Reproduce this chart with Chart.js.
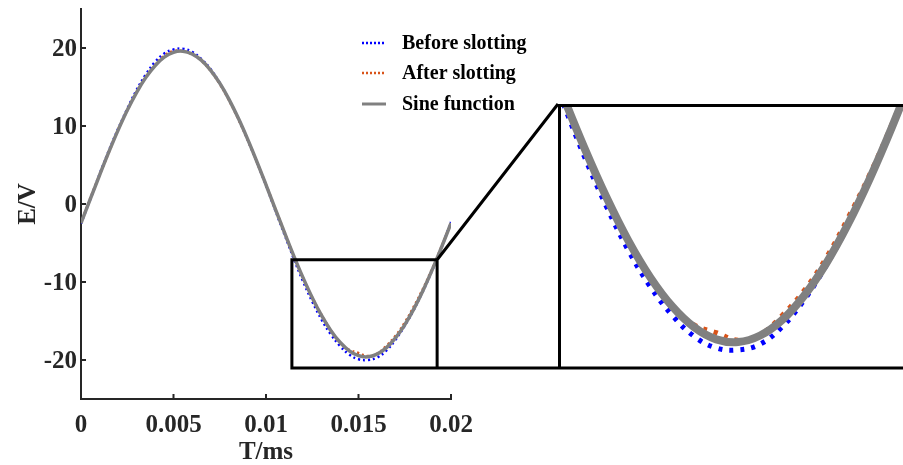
<!DOCTYPE html>
<html>
<head>
<meta charset="utf-8">
<script src="https://cdn.jsdelivr.net/npm/chart.js@4"></script>
<style>
body{margin:0;background:#fff}
#wrap{position:relative;width:903px;height:465px;overflow:hidden}
#main{position:absolute;left:0;top:0}
#zoom{position:absolute;left:558px;top:104px}
</style>
</head>
<body>
<div id="wrap">
<canvas id="main" width="903" height="465"></canvas>
<canvas id="zoom" width="345" height="265"></canvas>
</div>
<script>
// time axis (ms), one sample every 0.0005
const timeMs = [0,0.0005,0.001,0.0015,0.002,0.0025,0.003,0.0035,0.004,0.0045,0.005,
  0.0055,0.006,0.0065,0.007,0.0075,0.008,0.0085,0.009,0.0095,0.01,
  0.0105,0.011,0.0115,0.012,0.0125,0.013,0.0135,0.014,0.0145,0.015,
  0.0155,0.016,0.0165,0.017,0.0175,0.018,0.0185,0.019,0.0195,0.02];

const beforeSlotting = [-2.5,0.6,3.8,6.8,9.6,12.2,14.6,16.6,18.2,19.3,19.8,
  19.9,19.5,18.6,17.3,15.5,13.4,11.0,8.3,5.4,2.4,
  -0.8,-3.9,-7.0,-9.9,-12.5,-14.8,-16.7,-18.2,-19.3,-19.9,
  -20.0,-19.7,-18.8,-17.4,-15.6,-13.5,-11.1,-8.4,-5.5,-2.3];

const afterSlotting = [-2.4,0.7,3.7,6.6,9.5,12.0,14.3,16.3,17.8,19.0,19.6,
  19.6,19.2,18.4,17.1,15.4,13.3,10.9,8.3,5.4,2.5,
  -0.6,-3.6,-6.7,-9.5,-12.0,-14.2,-16.2,-17.8,-18.7,-19.1,
  -19.5,-19.2,-18.2,-16.9,-15.2,-13.1,-10.8,-8.2,-5.4,-2.4];

const sineFunction = [-2.46,0.62,3.67,6.64,9.44,12.01,14.29,16.21,17.73,18.82,19.45,
  19.59,19.25,18.44,17.17,15.49,13.42,11.02,8.35,5.47,2.46,
  -0.62,-3.67,-6.64,-9.44,-12.01,-14.29,-16.21,-17.73,-18.82,-19.45,
  -19.59,-19.25,-18.44,-17.17,-15.49,-13.42,-11.02,-8.35,-5.47,-2.46];

const seriesNames = ['Before slotting','After slotting','Sine function'];
const xTicks = [0,0.005,0.01,0.015,0.02];
const yTicks = [-20,-10,0,10,20];
const xLabels = ['0','0.005','0.01','0.015','0.02'];

// zoom window (data units) shown in the inset
const zoomX = [0.0114, 0.01925];
const zoomY = [-21.0, -7.15];

const INK = '#262626';
const FONT = "'Liberation Serif', 'Times New Roman', serif";
const BLUE = '#0000ff', ORANGE = '#d95319', GREY = '#808080';
const INSET = {left:558, top:104, width:345, height:265};

const pts = arr => arr.map((v,i)=>({x:timeMs[i], y:v}));

function makeSets(big){
  return [
    {label:seriesNames[0], data:pts(beforeSlotting), borderColor:BLUE, borderWidth:big?5:2.5,
     borderDash:big?[4,7]:[2,3], pointRadius:0, tension:0.4, order:2},
    {label:seriesNames[1], data:pts(afterSlotting), borderColor:ORANGE, borderWidth:big?5:2.5,
     borderDash:big?[4,7]:[2,3], pointRadius:0, tension:0.4, order:1},
    {label:seriesNames[2], data:pts(sineFunction), borderColor:GREY, borderWidth:big?8:3.5,
     pointRadius:0, tension:0.4, order:0}
  ];
}

const decor = {
  id:'decor',
  afterDraw(chart){
    const c = chart.ctx, xs = chart.scales.x, ys = chart.scales.y;
    c.save();
    // inward tick marks
    c.strokeStyle = INK; c.lineWidth = 2;
    c.beginPath();
    xTicks.forEach(v=>{ if(v===0) return; const p = xs.getPixelForValue(v);
      c.moveTo(p, ys.bottom); c.lineTo(p, ys.bottom-5); });
    yTicks.forEach(v=>{ const p = ys.getPixelForValue(v);
      c.moveTo(xs.left, p); c.lineTo(xs.left+5, p); });
    c.stroke();
    // zoom box + connectors
    const bx1 = xs.getPixelForValue(zoomX[0]), bx2 = xs.getPixelForValue(zoomX[1]);
    const by1 = ys.getPixelForValue(zoomY[1]), by2 = INSET.top + INSET.height - 1;
    c.strokeStyle = '#000'; c.lineWidth = 3;
    c.beginPath();
    c.moveTo(bx2, by2); c.lineTo(bx1, by2); c.lineTo(bx1, by1); c.lineTo(bx2, by1); c.lineTo(bx2, by2);
    c.moveTo(bx2, by2); c.lineTo(INSET.left+INSET.width+5, by2);
    c.moveTo(bx2, by1); c.lineTo(INSET.left, INSET.top);
    c.stroke();
    // legend
    const rows = [43, 73, 104];
    chart.data.datasets.forEach((d,i)=>{
      c.strokeStyle = d.borderColor;
      c.lineWidth = i===2 ? 3 : 2.5;
      c.setLineDash(i===2 ? [] : [2,2]);
      c.beginPath(); c.moveTo(362, rows[i]); c.lineTo(386, rows[i]); c.stroke();
      c.setLineDash([]);
      c.fillStyle = '#000';
      c.font = 'bold 20px ' + FONT;
      c.textBaseline = 'middle'; c.textAlign = 'left';
      c.fillText(d.label, 402, rows[i]+1);
    });
    c.restore();
  }
};

new Chart(document.getElementById('main'), {
  type:'line',
  data:{datasets:makeSets(false)},
  options:{
    responsive:false, animation:false,
    layout:{padding:{top:9,right:452,left:0,bottom:0}},
    plugins:{legend:{display:false}, tooltip:{enabled:false}},
    scales:{
      x:{type:'linear', min:0, max:0.02,
         afterBuildTicks:s=>{ s.ticks = xTicks.map(v=>({value:v})); },
         afterFit:s=>{ s.height = 66; s.paddingLeft = 0; s.paddingRight = 0; },
         grid:{drawOnChartArea:false, drawTicks:false},
         border:{color:INK, width:2},
         ticks:{color:INK, padding:12, maxRotation:0, font:{family:FONT, size:25, weight:'bold'},
                callback:(v)=>xLabels[xTicks.indexOf(v)]},
         title:{display:true, text:'T/ms', color:INK, padding:{top:0,bottom:-3},
                font:{family:FONT, size:25, weight:'bold'}}},
      y:{min:-25, max:25,
         afterBuildTicks:s=>{ s.ticks = yTicks.map(v=>({value:v})); },
         afterFit:s=>{ s.width = 81; s.paddingTop = 0; s.paddingBottom = 0; },
         grid:{drawOnChartArea:false, drawTicks:false},
         border:{color:INK, width:2},
         ticks:{color:INK, padding:4, labelOffset:2, font:{family:FONT, size:25, weight:'bold'}},
         title:{display:true, text:'E/V', color:INK, padding:{top:14,bottom:0},
                font:{family:FONT, size:25, weight:'bold'}}}
    }
  },
  plugins:[decor]
});

const insetFrame = {
  id:'insetFrame',
  afterDraw(chart){
    const c = chart.ctx;
    c.save();
    c.strokeStyle = '#000'; c.lineWidth = 3;
    c.beginPath();
    c.moveTo(chart.width+5, 1.5); c.lineTo(1.5, 1.5); c.lineTo(1.5, chart.height-1.5);
    c.stroke();
    c.restore();
  }
};

new Chart(document.getElementById('zoom'), {
  type:'line',
  data:{datasets:makeSets(true)},
  options:{
    responsive:false, animation:false,
    layout:{padding:0},
    plugins:{legend:{display:false}, tooltip:{enabled:false}},
    scales:{
      x:{type:'linear', display:false, min:zoomX[0], max:zoomX[1]},
      y:{display:false, min:zoomY[0], max:zoomY[1]}
    }
  },
  plugins:[insetFrame]
});
</script>
</body>
</html>
